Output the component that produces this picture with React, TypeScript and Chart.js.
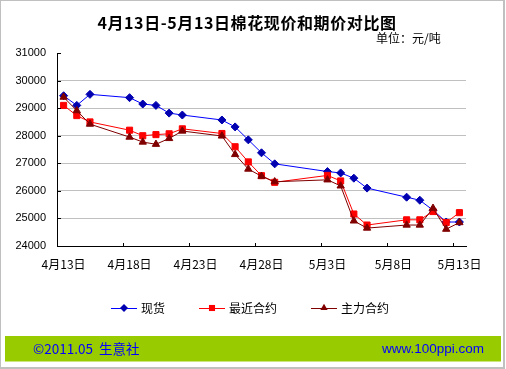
import React, { useEffect, useRef } from "react";
import { Chart, registerables } from "chart.js";

Chart.register(...registerables);

const TITLE = "4月13日-5月13日棉花现价和期价对比图";
const UNIT = "单位：元/吨";
const FOOTER_LEFT = "©2011.05  生意社";
const FOOTER_RIGHT = "www.100ppi.com";

const START_DATE = "4/13";
const dates = ["4/13", "4/14", "4/15", "4/18", "4/19", "4/20", "4/21", "4/22", "4/25", "4/26", "4/27", "4/28", "4/29", "5/3", "5/4", "5/5", "5/6", "5/9", "5/10", "5/11", "5/12", "5/13"];
const spot = [29450, 29100, 29500, 29380, 29150, 29100, 28820, 28750, 28570, 28320, 27850, 27380, 26980, 26700, 26650, 26460, 26100, 25770, 25660, 25300, 24870, 24870];
const nearest = [29100, 28730, 28500, 28200, 28000, 28040, 28070, 28250, 28080, 27600, 27050, 26550, 26310, 26560, 26360, 25160, 24760, 24950, 24950, 25250, 24850, 25210];
const main = [29400, 28910, 28420, 27950, 27770, 27690, 27900, 28170, 27990, 27320, 26790, 26530, 26330, 26400, 26180, 24910, 24650, 24760, 24760, 25370, 24610, 24850];
const seriesNames = ["现货", "最近合约", "主力合约"];
const xTickLabels = ["4月13日", "4月18日", "4月23日", "4月28日", "5月3日", "5月8日", "5月13日"];
const yMin = 24000;
const yMax = 31000;
const yStep = 1000;
const totalDays = 31;

function dayOffset(d: string): number {
  const [m, dd] = d.split("/").map(Number);
  const [m0, d0] = START_DATE.split("/").map(Number);
  const a = new Date(2011, m - 1, dd).getTime();
  const b = new Date(2011, m0 - 1, d0).getTime();
  return Math.round((a - b) / 86400000);
}

const CJK = '"Noto Sans CJK SC", "Liberation Sans", sans-serif';
const LAT = '"Liberation Sans", Arial, sans-serif';

const decorPlugin = {
  id: "decor",
  beforeDraw(chart: any) {
    const ctx = chart.ctx;
    ctx.save();
    ctx.fillStyle = "#ffffff";
    ctx.fillRect(0, 0, chart.width, chart.height);
    ctx.restore();
  },
  afterDraw(chart: any) {
    const ctx = chart.ctx;
    const ca = chart.chartArea;
    const xs = chart.scales.x;
    const ys = chart.scales.y;
    ctx.save();
    // inward ticks
    ctx.strokeStyle = "#000000";
    ctx.lineWidth = 1;
    ctx.beginPath();
    for (let v = yMin; v <= yMax; v += yStep) {
      const y = Math.round(ys.getPixelForValue(v)) + 0.5;
      ctx.moveTo(ca.left, y);
      ctx.lineTo(ca.left + 4, y);
    }
    for (let i = 0; i < xTickLabels.length; i++) {
      const x = Math.round(xs.getPixelForValue(i * 5 - 0.5)) + 0.5;
      ctx.moveTo(x, ca.bottom);
      ctx.lineTo(x, ca.bottom - 3);
    }
    ctx.stroke();

    // title
    ctx.fillStyle = "#000000";
    ctx.textBaseline = "middle";
    ctx.textAlign = "center";
    ctx.font = `bold 16px ${CJK}`;
    try { (ctx as any).letterSpacing = "0.6px"; } catch (e) {}
    ctx.fillText(TITLE, 247, 23);
    try { (ctx as any).letterSpacing = "0px"; } catch (e) {}
    // unit
    ctx.textAlign = "left";
    ctx.font = `12px ${CJK}`;
    ctx.fillText(UNIT, 376, 38);

    // legend
    const legendY = 308;
    const items = [
      { x: 111, ds: chart.data.datasets[0] },
      { x: 199, ds: chart.data.datasets[1] },
      { x: 311, ds: chart.data.datasets[2] },
    ];
    for (const it of items) {
      ctx.strokeStyle = it.ds.borderColor;
      ctx.lineWidth = 1;
      ctx.beginPath();
      ctx.moveTo(it.x, legendY + 0.5);
      ctx.lineTo(it.x + 26, legendY + 0.5);
      ctx.stroke();
      ctx.fillStyle = it.ds.pointBackgroundColor;
      ctx.strokeStyle = it.ds.pointBorderColor;
      const r = it.ds.pointRadius;
      const cx = it.x + 13;
      const cy = legendY;
      ctx.beginPath();
      if (it.ds.pointStyle === "rectRot") {
        ctx.moveTo(cx - r, cy); ctx.lineTo(cx, cy - r); ctx.lineTo(cx + r, cy); ctx.lineTo(cx, cy + r);
      } else if (it.ds.pointStyle === "rect") {
        const s = r * Math.SQRT1_2;
        ctx.rect(cx - s, cy - s, 2 * s, 2 * s);
      } else {
        ctx.moveTo(cx, cy - r);
        ctx.lineTo(cx + r * Math.sin(Math.PI * 2 / 3), cy - r * Math.cos(Math.PI * 2 / 3));
        ctx.lineTo(cx + r * Math.sin(Math.PI * 4 / 3), cy - r * Math.cos(Math.PI * 4 / 3));
      }
      ctx.closePath();
      ctx.fill();
      ctx.fillStyle = "#000000";
      ctx.font = `12px ${CJK}`;
      ctx.textAlign = "left";
      ctx.fillText(it.ds.label, it.x + 30, legendY);
    }

    // footer
    ctx.fillStyle = "#99CC00";
    ctx.fillRect(5, 336, 496, 25.5);
    ctx.fillStyle = "#0000FF";
    ctx.font = `13.5px ${CJK}`;
    ctx.textAlign = "left";
    ctx.fillText(FOOTER_LEFT, 33, 349);
    ctx.textAlign = "right";
    ctx.font = `13.5px ${LAT}`;
    ctx.fillText(FOOTER_RIGHT, 484, 349);

    // outer border
    ctx.strokeStyle = "#c0c0c0";
    ctx.lineWidth = 2;
    ctx.strokeRect(0, 0, 504, 368);
    ctx.restore();
  },
};

export default function App() {
  const ref = useRef<HTMLCanvasElement | null>(null);
  useEffect(() => {
    document.body.style.margin = "0";
    const canvas = ref.current!;
    const xs = dates.map(dayOffset);
    const mk = (arr: number[]) => arr.map((v, i) => ({ x: xs[i], y: v }));
    const chart = new Chart(canvas, {
      type: "line",
      data: {
        datasets: [
          {
            label: seriesNames[0],
            data: mk(spot),
            borderColor: "#0000FF",
            borderWidth: 1,
            pointStyle: "rectRot",
            pointRadius: 4,
            pointBackgroundColor: "#0000B0",
            pointBorderColor: "#0000B0",
            pointBorderWidth: 1,
            order: 3,
          } as any,
          {
            label: seriesNames[1],
            data: mk(nearest),
            borderColor: "#FF0000",
            borderWidth: 1,
            pointStyle: "rect",
            pointRadius: 4.3,
            pointBackgroundColor: "#FF0000",
            pointBorderColor: "#FF0000",
            pointBorderWidth: 1,
            order: 2,
          },
          {
            label: seriesNames[2],
            data: mk(main),
            borderColor: "#800000",
            borderWidth: 1,
            pointStyle: "triangle",
            pointRadius: 4.2,
            pointBackgroundColor: "#800000",
            pointBorderColor: "#800000",
            pointBorderWidth: 1,
            order: 1,
          },
        ],
      },
      options: {
        responsive: false,
        animation: false,
        layout: { padding: { left: 0, right: 40, top: 53, bottom: 0 } },
        plugins: {
          legend: { display: false },
          title: { display: false },
          tooltip: { enabled: false },
        },
        scales: {
          x: {
            type: "linear",
            min: -0.5,
            max: totalDays - 0.5,
            afterBuildTicks: (scale: any) => {
              scale.ticks = xTickLabels.map((_, i) => ({ value: i * 5 - 0.5 }));
            },
            afterFit: (scale: any) => {
              scale.height = 123;
            },
            grid: { display: false, drawTicks: false },
            border: { display: true, color: "#000000", width: 1 },
            ticks: {
              autoSkip: false,
              maxRotation: 0,
              minRotation: 0,
              padding: 11,
              labelOffset: 6.6,
              color: "#000000",
              font: { family: CJK, size: 12 },
              callback: (_v: any, i: number) => xTickLabels[i],
            },
          },
          y: {
            min: yMin,
            max: yMax,
            afterFit: (scale: any) => {
              scale.width = 57;
            },
            grid: {
              color: (c: any) => (c.tick && c.tick.value === yMax ? "rgba(0,0,0,0)" : "#c0c0c0"),
              drawTicks: false,
              lineWidth: 1,
            },
            border: { display: true, color: "#000000", width: 1 },
            ticks: {
              stepSize: yStep,
              padding: 11,
              color: "#000000",
              font: { family: LAT, size: 11 },
              callback: (v: any) => String(v),
            },
          },
        },
      },
      plugins: [decorPlugin],
    });
    return () => chart.destroy();
  }, []);
  return (
    <div style={{ width: 506, height: 369 }}>
      <canvas ref={ref} width={506} height={369} style={{ display: "block" }} />
    </div>
  );
}
